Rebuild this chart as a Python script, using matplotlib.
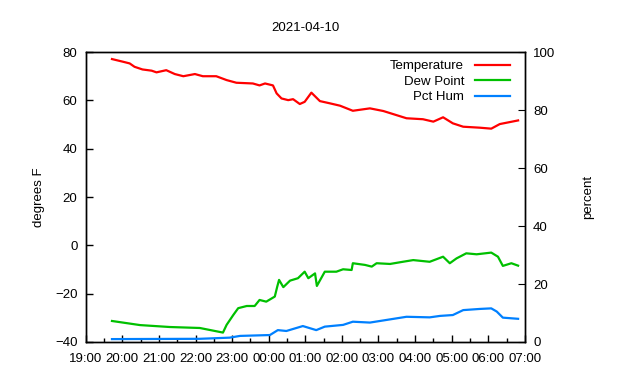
import matplotlib
matplotlib.use('Agg')
import matplotlib.pyplot as plt
import matplotlib.dates as mdates
from datetime import datetime

plt.rcParams['font.family'] = ['Liberation Sans', 'DejaVu Sans']

# readings (HH:MM, value)
temp_times = ['19:43', '20:01', '20:12', '20:20', '20:33', '20:48', '20:56', '21:12', '21:26', '21:40',
              '21:59', '22:12', '22:34', '22:51', '23:07', '23:34', '23:45', '23:54', '00:07', '00:13',
              '00:21', '00:32', '00:40', '00:51', '00:59', '01:10', '01:24', '01:40', '01:57', '02:18',
              '02:46', '03:08', '03:46', '04:13', '04:30', '04:46', '05:02', '05:19', '05:46', '06:05',
              '06:19', '06:49']
temp_vals = [77.1, 76.0, 75.3, 73.9, 72.8, 72.3, 71.6, 72.5, 70.9, 70.0,
             70.9, 70.0, 70.0, 68.4, 67.3, 67.0, 66.2, 67.0, 66.2, 62.9,
             60.8, 60.1, 60.5, 58.5, 59.4, 63.2, 59.7, 58.8, 57.8, 55.7,
             56.7, 55.6, 52.6, 52.2, 51.2, 53.0, 50.5, 49.1, 48.7, 48.3,
             50.2, 51.7]

dew_times = ['19:43', '20:29', '21:18', '22:07', '22:45', '22:51', '23:02', '23:10', '23:24', '23:37',
             '23:45', '23:56', '00:10', '00:14', '00:17', '00:24', '00:35', '00:48', '00:59', '01:05',
             '01:16', '01:19', '01:32', '01:51', '02:02', '02:16', '02:18', '02:38', '02:49', '02:57',
             '03:19', '03:40', '03:57', '04:24', '04:46', '04:57', '05:08', '05:24', '05:41', '06:05',
             '06:16', '06:24', '06:38', '06:49']
dew_vals = [-31.3, -33.0, -33.8, -34.2, -36.1, -32.9, -28.8, -26.0, -25.1, -25.1,
            -22.6, -23.3, -21.2, -17.1, -14.3, -17.3, -14.6, -13.6, -10.9, -13.6,
            -11.6, -16.8, -10.9, -10.9, -9.9, -10.2, -7.4, -8.1, -8.8, -7.4,
            -7.7, -6.8, -6.1, -6.8, -4.7, -7.4, -5.4, -3.3, -3.7, -3.0,
            -4.7, -8.5, -7.4, -8.4]

hum_times = ['19:43', '22:07', '22:56', '23:13', '00:02', '00:15', '00:29', '00:56', '01:18', '01:32',
             '02:02', '02:18', '02:46', '03:19', '03:46', '04:24', '04:41', '05:02', '05:19', '05:46',
             '06:05', '06:14', '06:24', '06:49']
hum_vals = [1.0, 1.1, 1.5, 2.1, 2.4, 4.1, 3.8, 5.5, 4.1, 5.3,
            5.9, 7.0, 6.7, 7.8, 8.7, 8.5, 9.0, 9.3, 11.0, 11.4,
            11.6, 10.5, 8.4, 8.0]


def to_dt(hhmm):
    h, m = map(int, hhmm.split(':'))
    day = 9 if h >= 12 else 10
    return datetime(2021, 4, day, h, m)


fig = plt.figure(figsize=(6.4, 3.8), dpi=100)
ax1 = fig.add_axes([0.134, 0.1, 0.686, 0.763])
ax2 = ax1.twinx()

l1, = ax1.plot([to_dt(t) for t in temp_times], temp_vals, color='#ff0000', lw=1.6, label='Temperature')
l2, = ax1.plot([to_dt(t) for t in dew_times], dew_vals, color='#00c000', lw=1.6, label='Dew Point')
l3, = ax2.plot([to_dt(t) for t in hum_times], hum_vals, color='#0080ff', lw=1.6, label='Pct Hum')

ax1.set_xlim(datetime(2021, 4, 9, 19, 0), datetime(2021, 4, 10, 7, 0))
ax1.set_ylim(-40, 80)
ax2.set_ylim(0, 100)
ax1.set_yticks(range(-40, 81, 20))
ax2.set_yticks(range(0, 101, 20))

ax1.xaxis.set_major_locator(mdates.HourLocator())
ax1.xaxis.set_minor_locator(mdates.MinuteLocator(byminute=[30]))
ax1.xaxis.set_major_formatter(mdates.DateFormatter('%H:%M'))

ax1.tick_params(axis='both', which='both', direction='in', labelsize=9.5, width=1, colors='black')
ax1.tick_params(axis='x', which='major', length=5, pad=8)
ax1.tick_params(axis='x', which='minor', length=3)
ax1.tick_params(axis='y', length=5, pad=6)
ax2.tick_params(axis='y', direction='in', length=5, labelsize=9.5, pad=6)

for ax in (ax1, ax2):
    for s in ax.spines.values():
        s.set_linewidth(1)

ax1.set_ylabel('degrees F', fontsize=9.5, labelpad=7)
ax2.set_ylabel('percent', fontsize=9.5, labelpad=19)
ax1.set_title('2021-04-10', fontsize=9.5, pad=15)

ax1.legend(handles=[l1, l2, l3], loc='upper right', bbox_to_anchor=(0.985, 1.0), frameon=False,
           markerfirst=False, fontsize=9.5, handlelength=2.7, borderaxespad=0.2, labelspacing=0.25,
           handletextpad=0.8)

plt.savefig('out.png', dpi=100)
